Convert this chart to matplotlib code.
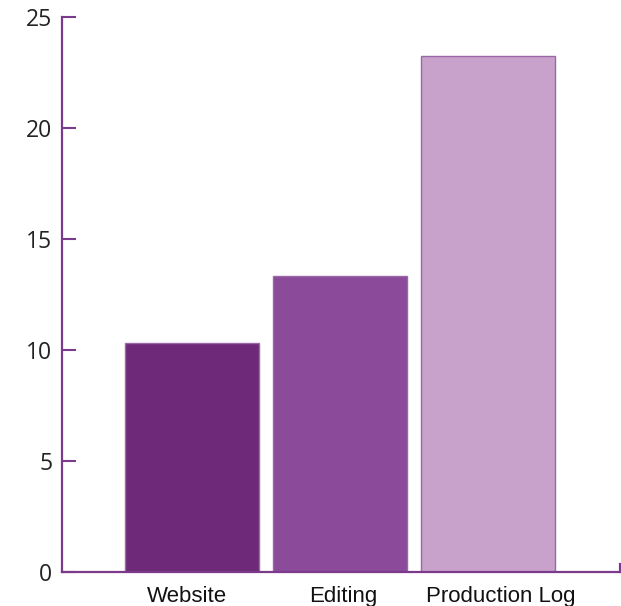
import matplotlib
matplotlib.use("Agg")
import matplotlib.pyplot as plt
from matplotlib.transforms import ScaledTranslation

categories = ["Website", "Editing", "Production Log"]
values = [10.3, 13.35, 23.25]
bar_colors = ["#6E2A78", "#8B4A9A", "#C8A2CB"]
y_ticks = [0, 5, 10, 15, 20, 25]

axis_color = "#7B3A8C"

fig = plt.figure(figsize=(6.21, 6.06), dpi=100)
ax = fig.add_axes([62 / 621, 34 / 606, 558 / 621, 555 / 606])

x = range(len(categories))
ax.bar(x, values, width=0.905, color=bar_colors, edgecolor="#9A68A6", linewidth=1.0, zorder=2)

ax.set_xlim(-0.878, 2.89)
ax.set_ylim(0, 25)

for side in ("top", "right"):
    ax.spines[side].set_visible(False)
for side in ("left", "bottom"):
    ax.spines[side].set_color(axis_color)
    ax.spines[side].set_linewidth(1.6)

ax.set_yticks(y_ticks)
ax.set_yticklabels([str(t) for t in y_ticks], fontfamily="Open Sans", fontsize=16.5, color="#222222")
ax.tick_params(axis="y", direction="in", length=10, width=1.5, color=axis_color, pad=7)

ax.set_xticks(list(x))
ax.set_xticklabels(categories, fontfamily="Liberation Sans", fontsize=16, color="#111111")
ax.tick_params(axis="x", length=0, pad=10)

# nudge category labels sideways (in inches)
label_shifts = [-0.05, 0.03, 0.13]
for lbl, dx in zip(ax.get_xticklabels(), label_shifts):
    lbl.set_transform(lbl.get_transform() + ScaledTranslation(dx, 0, fig.dpi_scale_trans))

# small end cap on the right of the baseline
ax.plot([1, 1], [0, 0.014], transform=ax.transAxes, color=axis_color, linewidth=1.6, clip_on=False)

fig.savefig("out.png", dpi=100)
